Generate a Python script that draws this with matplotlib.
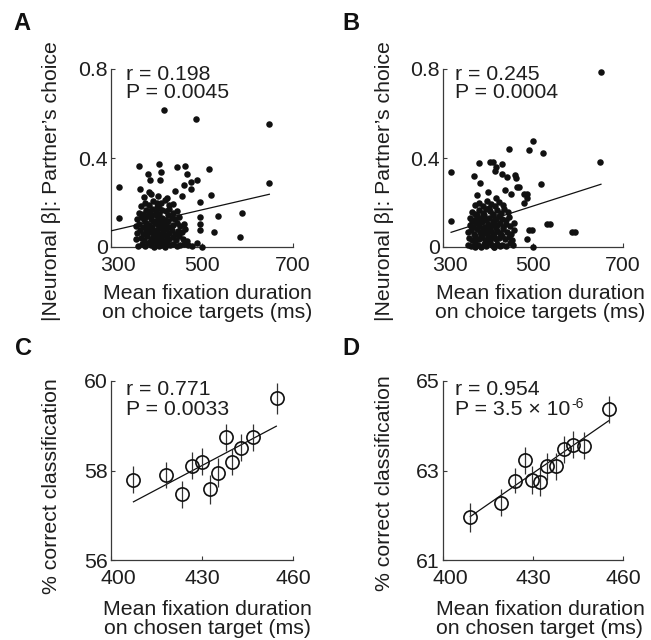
import matplotlib
matplotlib.use("Agg")
import matplotlib.pyplot as plt
from matplotlib.transforms import ScaledTranslation

# Four panels: fixation duration vs neuronal beta (A, B) and vs decoding (C, D)

plt.rcParams['font.family'] = ['Liberation Sans', 'DejaVu Sans']

W, H = 651, 640
INK = '#1e1e1e'
FS = 15.3

# ---- panel A data: mean fixation duration (ms) vs |beta| ----
a_x = [360, 368, 375, 382, 388, 394, 400, 405, 412, 418, 424, 430, 437, 445, 452, 460, 470, 478,
       356, 366, 373, 380, 387, 392, 398, 404, 410, 416, 423, 428, 436, 442, 450, 458, 466,
       358, 364, 371, 378, 385, 391, 396, 402, 408, 414, 420, 427, 433, 440, 447, 455, 462,
       355, 362, 370, 376, 383, 390, 397, 403, 409, 415, 421, 429, 436, 444, 452, 460,
       358, 365, 372, 380, 387, 393, 400, 406, 413, 419, 426, 433, 441, 449,
       362, 370, 377, 384, 391, 398, 405, 412, 420, 428, 436, 445,
       366, 375, 384, 392, 401, 410, 418, 427, 436,
       372, 388, 404, 422, 440,
       380, 395, 410, 425, 390, 405, 385, 415, 400, 375, 420, 395, 410, 386, 402,
       417, 486, 647, 647, 318, 318, 516, 520, 496, 488, 536, 527, 589, 583, 496, 496, 496,
       499, 489, 466, 463, 444, 476, 475, 460, 457, 381, 362, 406, 409, 408, 385, 364, 383]
a_y = [0.005, 0.012, 0.003, 0.018, 0.008, 0.0, 0.015, 0.006, 0.01, 0.002, 0.017, 0.007, 0.012,
       0.004, 0.009, 0.014, 0.01, 0.004,
       0.035, 0.042, 0.03, 0.048, 0.038, 0.045, 0.032, 0.05, 0.04, 0.028, 0.046, 0.036, 0.043,
       0.03, 0.05, 0.038, 0.025,
       0.065, 0.078, 0.06, 0.072, 0.068, 0.08, 0.062, 0.075, 0.058, 0.07, 0.082, 0.064, 0.076,
       0.06, 0.07, 0.066, 0.08,
       0.095, 0.105, 0.09, 0.11, 0.1, 0.092, 0.108, 0.098, 0.112, 0.094, 0.104, 0.09, 0.1,
       0.11, 0.096, 0.102,
       0.125, 0.135, 0.12, 0.14, 0.128, 0.118, 0.138, 0.126, 0.132, 0.12, 0.142, 0.13, 0.124, 0.136,
       0.155, 0.148, 0.165, 0.152, 0.17, 0.158, 0.15, 0.166, 0.16, 0.172, 0.154, 0.162,
       0.185, 0.2, 0.19, 0.205, 0.182, 0.198, 0.21, 0.188, 0.195,
       0.225, 0.24, 0.23, 0.222, 0.25,
       0.085, 0.055, 0.025, 0.115, 0.145, 0.175, 0.022, 0.052, 0.115, 0.135, 0.052, 0.025,
       0.085, 0.16, 0.2,
       0.616, 0.575, 0.551, 0.289, 0.271, 0.129, 0.349, 0.234, 0.204, 0.301, 0.139, 0.066,
       0.151, 0.046, 0.136, 0.103, 0.076,
       0.0, 0.02, 0.327, 0.365, 0.361, 0.294, 0.259, 0.28, 0.23, 0.328, 0.365, 0.372, 0.338,
       0.301, 0.30, 0.26, 0.247]
a_fit_x = [301, 648]
a_fit_y = [0.073, 0.237]

# ---- panel B data ----
b_x = [355, 362, 370, 377, 384, 390, 396, 402, 408, 414, 420, 426, 432, 440, 448, 455,
       358, 365, 372, 379, 386, 393, 399, 405, 411, 418, 424, 431, 438, 446, 453,
       356, 363, 369, 376, 382, 388, 395, 401, 407, 413, 420, 427, 434, 442, 450, 458,
       359, 366, 373, 380, 387, 394, 400, 406, 413, 419, 426, 433, 441, 449, 457,
       361, 368, 375, 382, 389, 396, 403, 410, 417, 424, 431, 439, 447,
       364, 372, 380, 388, 396, 404, 412, 420, 428, 436, 444,
       370, 379, 388, 397, 406, 415, 424, 433,
       376, 400, 418, 438, 452,
       372, 385, 398, 410, 392, 405, 380, 418, 395, 428, 365, 402, 388, 412, 376,
       651, 649, 318, 318, 447, 501, 492, 522, 517, 479, 486, 479, 531, 538, 586, 593,
       501, 490, 497, 486, 372, 414, 442, 405, 411, 418, 431, 381, 369, 382, 415, 430,
       460, 463, 469, 464, 486]
b_y = [0.01, 0.003, 0.015, 0.007, 0.0, 0.012, 0.005, 0.018, 0.008, 0.002, 0.014, 0.006, 0.011,
       0.004, 0.016, 0.008,
       0.04, 0.032, 0.048, 0.036, 0.044, 0.03, 0.05, 0.038, 0.046, 0.034, 0.042, 0.05, 0.036,
       0.044, 0.03,
       0.068, 0.075, 0.06, 0.08, 0.066, 0.072, 0.062, 0.078, 0.07, 0.058, 0.074, 0.064, 0.08,
       0.068, 0.06, 0.076,
       0.1, 0.092, 0.108, 0.096, 0.112, 0.09, 0.104, 0.094, 0.11, 0.098, 0.106, 0.09, 0.102,
       0.096, 0.11,
       0.13, 0.122, 0.14, 0.126, 0.136, 0.12, 0.132, 0.142, 0.124, 0.138, 0.128, 0.12, 0.134,
       0.158, 0.15, 0.168, 0.155, 0.172, 0.16, 0.148, 0.166, 0.152, 0.17, 0.158,
       0.19, 0.2, 0.184, 0.208, 0.195, 0.186, 0.202, 0.19,
       0.232, 0.245, 0.222, 0.256, 0.238,
       0.025, 0.055, 0.085, 0.115, 0.145, 0.025, 0.115, 0.085, 0.025, 0.055, 0.115, 0.175,
       0.085, 0.055, 0.145,
       0.785, 0.383, 0.336, 0.118, 0.44, 0.476, 0.436, 0.421, 0.282, 0.238, 0.219, 0.196,
       0.102, 0.102, 0.066, 0.066,
       0.0, 0.076, 0.076, 0.035, 0.0, 0.0, 0.316, 0.38, 0.38, 0.36, 0.372, 0.376, 0.319,
       0.286, 0.34, 0.33,
       0.324, 0.309, 0.27, 0.27, 0.24]
b_fit_x = [318, 651]
b_fit_y = [0.066, 0.282]

# ---- panel C data: binned fixation duration vs % correct ----
c_x = [407.4, 418.0, 423.3, 426.8, 429.9, 432.6, 435.4, 437.8, 440.0, 442.9, 446.9, 454.6]
c_y = [57.79, 57.90, 57.47, 58.11, 58.20, 57.58, 57.95, 58.74, 58.19, 58.51, 58.74, 59.61]
c_err = [0.30, 0.28, 0.30, 0.30, 0.30, 0.32, 0.32, 0.30, 0.30, 0.30, 0.30, 0.34]
c_fit_x = [407.4, 454.5]
c_fit_y = [57.30, 58.99]

# ---- panel D data ----
d_x = [409.1, 419.4, 424.0, 427.3, 429.8, 432.3, 434.8, 437.5, 440.4, 443.4, 447.0, 455.2]
d_y = [61.95, 62.28, 62.77, 63.23, 62.79, 62.74, 63.09, 63.09, 63.47, 63.58, 63.55, 64.37]
d_err = [0.32, 0.30, 0.28, 0.30, 0.32, 0.32, 0.30, 0.30, 0.30, 0.30, 0.30, 0.30]
d_fit_x = [409.1, 455.2]
d_fit_y = [61.97, 64.11]


def add_axes_px(fig, left, top, right, bottom):
    return fig.add_axes([left / W, 1 - bottom / H, (right - left) / W, (bottom - top) / H])


def ftext(fig, x, y, s, **kw):
    kw.setdefault('color', INK)
    kw.setdefault('fontsize', FS)
    return fig.text(x / W, 1 - y / H, s, **kw)


def style_axes(ax, xlim, ylim, xticks, yticks, yticklabels):
    ax.set_xlim(xlim)
    ax.set_ylim(ylim)
    ax.set_xticks(xticks)
    ax.set_yticks(yticks)
    ax.set_yticklabels(yticklabels)
    for side in ['top', 'right']:
        ax.spines[side].set_visible(False)
    for side in ['left', 'bottom']:
        ax.spines[side].set_color('#3a3a3a')
        ax.spines[side].set_linewidth(0.9)
    ax.tick_params(direction='in', length=3, width=0.8, color='#3a3a3a',
                   labelsize=FS, labelcolor=INK)
    ax.tick_params(axis='x', pad=6.5)
    ax.tick_params(axis='y', pad=2.5)
    ax.patch.set_alpha(0)
    # first x label sits a little right of its tick, as in the original
    first = ax.get_xticklabels()[0]
    first.set_transform(first.get_transform() + ScaledTranslation(0.07, 0, fig.dpi_scale_trans))


fig = plt.figure(figsize=(W / 100, H / 100), dpi=100)

# A
ax = add_axes_px(fig, 111, 69, 293, 247)
ax.scatter(a_x, a_y, s=22, color='#111111', linewidths=0, clip_on=False, zorder=3)
ax.plot(a_fit_x, a_fit_y, color='#111111', lw=0.9, zorder=4)
style_axes(ax, (300, 700), (0, 0.8), [300, 500, 700], [0, 0.4, 0.8], ['0', '0.4', '0.8'])

# B
ax = add_axes_px(fig, 443, 69, 623, 247)
ax.scatter(b_x, b_y, s=22, color='#111111', linewidths=0, clip_on=False, zorder=3)
ax.plot(b_fit_x, b_fit_y, color='#111111', lw=0.9, zorder=4)
style_axes(ax, (300, 700), (0, 0.8), [300, 500, 700], [0, 0.4, 0.8], ['0', '0.4', '0.8'])

# C
ax = add_axes_px(fig, 111, 381, 293, 560)
ax.plot(c_fit_x, c_fit_y, color='#111111', lw=0.9, zorder=2)
ax.errorbar(c_x, c_y, yerr=c_err, fmt='o', ms=9.5, mfc='none', mec='#111111', mew=1.2,
            ecolor='#333333', elinewidth=0.9, capsize=0, zorder=3, clip_on=False)
style_axes(ax, (400, 460), (56, 60), [400, 430, 460], [56, 58, 60], ['56', '58', '60'])

# D
ax = add_axes_px(fig, 443, 381, 623, 560)
ax.plot(d_fit_x, d_fit_y, color='#111111', lw=0.9, zorder=2)
ax.errorbar(d_x, d_y, yerr=d_err, fmt='o', ms=9.5, mfc='none', mec='#111111', mew=1.2,
            ecolor='#333333', elinewidth=0.9, capsize=0, zorder=3, clip_on=False)
style_axes(ax, (400, 460), (61, 65), [400, 430, 460], [61, 63, 65], ['61', '63', '65'])

# panel letters
for lx, ly, letter in [(13, 30, 'A'), (342, 30, 'B'), (15, 355, 'C'), (342, 355, 'D')]:
    ftext(fig, lx, ly, letter, fontsize=17, fontweight='bold', va='baseline', color='#111111')

# statistics
ftext(fig, 126, 80, 'r = 0.198', va='baseline')
ftext(fig, 126, 98, 'P = 0.0045', va='baseline')
ftext(fig, 455, 80, 'r = 0.245', va='baseline')
ftext(fig, 455, 98, 'P = 0.0004', va='baseline')
ftext(fig, 126, 395, 'r = 0.771', va='baseline')
ftext(fig, 126, 415, 'P = 0.0033', va='baseline')
ftext(fig, 455, 395, 'r = 0.954', va='baseline')
p_d = ftext(fig, 455, 415, 'P = 3.5 × 10', va='baseline')
# small raised exponent placed right after the base text
ax.annotate('-6', xy=(1, 0), xycoords=p_d, xytext=(1, 11.5), textcoords='offset pixels',
            fontsize=10, color=INK, ha='left', va='baseline', annotation_clip=False)

# axis labels
ylab_top = '|Neuronal β|: Partner’s choice'
ylab_bot = '% correct classification'
ftext(fig, 52, 181, ylab_top, rotation=90, ha='center', va='center')
ftext(fig, 385, 181, ylab_top, rotation=90, ha='center', va='center')
ftext(fig, 52, 486, ylab_bot, rotation=90, ha='center', va='center')
ftext(fig, 385, 483, ylab_bot, rotation=90, ha='center', va='center')

for cx, b1, line2 in [(207, 299, 'on choice targets (ms)'), (540, 299, 'on choice targets (ms)'),
                      (207, 615, 'on chosen target (ms)'), (540, 615, 'on chosen target (ms)')]:
    ftext(fig, cx, b1, 'Mean fixation duration', ha='center', va='baseline')
    ftext(fig, cx, b1 + 18.5, line2, ha='center', va='baseline')

fig.savefig('out.png', dpi=100)
